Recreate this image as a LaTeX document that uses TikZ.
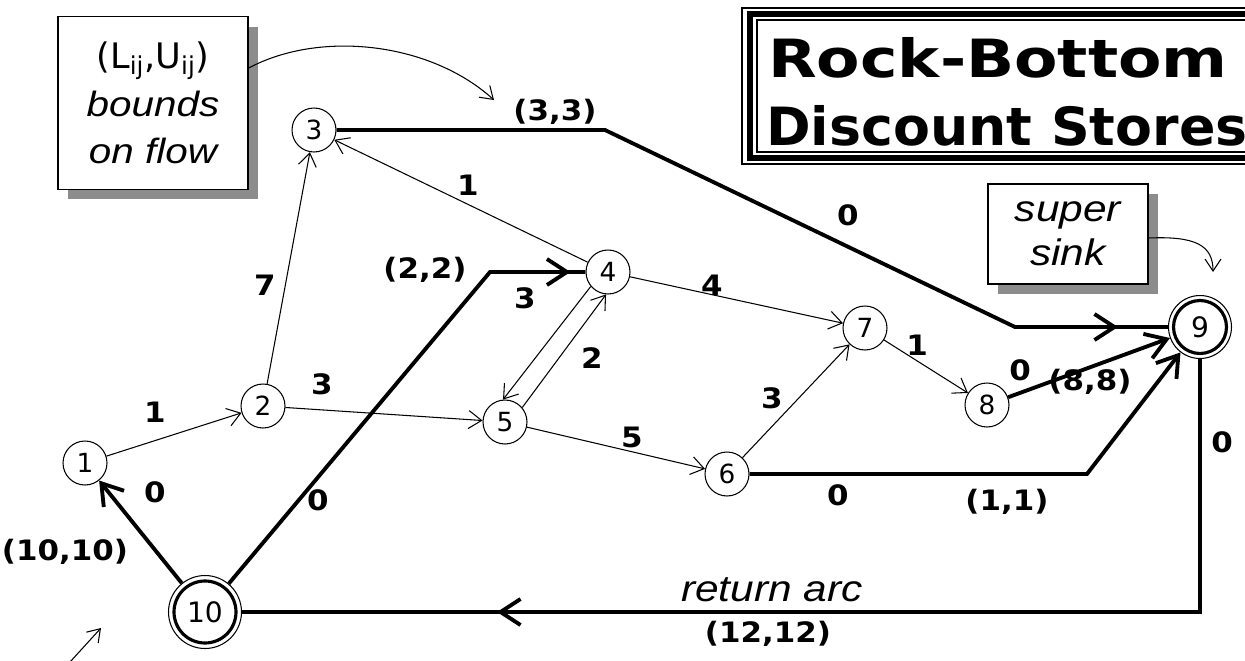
\documentclass[tikz,border=0pt]{standalone}
\usepackage{fontspec}
\usepackage{graphicx}
\setmainfont{DejaVu Sans}
\newfontfamily\lblfont{DejaVu Sans}[FakeStretch=1.1]
\newfontfamily\notefont{Liberation Sans}[FakeStretch=1.15]
\usetikzlibrary{arrows.meta,shadows,decorations.markings}
\tikzset{
  vert/.style={draw, circle, line width=0.6pt, minimum size=0.88cm, inner sep=0pt,
               font=\fontsize{15}{15}\selectfont},
  sink/.style 2 args={draw, circle, line width=0.6pt, minimum size=#1, inner sep=0pt,
               font=\fontsize{16}{16}\selectfont,
               path picture={\draw[line width=1.8pt] (path picture bounding box.center) circle[radius=#2];}},
  note/.style={draw, line width=0.8pt, fill=white, align=center, inner sep=0pt,
               drop shadow={shadow xshift=0.2cm, shadow yshift=-0.2cm, fill=black!45, opacity=1}},
  lbl/.style={inner sep=0pt, font=\lblfont\bfseries\fontsize{16}{16}\selectfont},
  ital/.style={inner sep=0pt, font=\notefont\itshape\fontsize{21}{25}\selectfont},
  titletxt/.style={inner sep=0pt, font=\bfseries\fontsize{30}{30}\selectfont},
  arcthin/.style={line width=0.6pt, -{Straight Barb[length=2.6mm,width=3.6mm]}},
  notearr/.style={line width=0.6pt, -{Straight Barb[length=2.4mm,width=3.2mm]}},
  flow/.style={line width=2.2pt},
  flowtip/.style={-{Straight Barb[length=4mm,width=5.2mm]}},
  midtip/.style={postaction={decorate, decoration={markings,
               mark=at position #1 with {\arrow{Straight Barb[length=4mm,width=5.2mm]}}}}}
}

\begin{document}
\begin{tikzpicture}[x=0.02cm, y=-0.02cm]
    \useasboundingbox (0,0) rectangle (1245,660);

    \draw[line width=0.6pt] (742,8) rectangle (1300,164);
    \draw[line width=3pt] (750,14) rectangle (1300,158);
    \draw[line width=0.6pt] (757,20) rectangle (1300,152);
    \node[titletxt] (rock) at (998,58) {\scalebox{1.2}[1]{Rock-Bottom}};
    \node[titletxt, anchor=west] (store) at (766,126) {\scalebox{1.02}[1]{Discount Stores}};

    \node[note, minimum width=3.8cm, minimum height=3.46cm, font=\fontsize{20}{27}\selectfont] (bounds) at (153,103)
      {(L\textsubscript{ij},U\textsubscript{ij})\\ \notefont\itshape bounds\\ \notefont\itshape on flow};
    \node[note, minimum width=3.2cm, minimum height=2cm, font=\notefont\itshape\fontsize{21}{25}\selectfont] (ssink) at (1068,234)
      {super\\ sink};

    \node[vert] (n1) at (85,463) {1};
    \node[vert] (n2) at (263,406) {2};
    \node[vert] (n3) at (314,130) {3};
    \node[vert] (n4) at (608,272) {4};
    \node[vert] (n5) at (505,422) {5};
    \node[vert] (n6) at (727,474) {6};
    \node[vert] (n7) at (865,328) {7};
    \node[vert] (n8) at (987,405) {8};
    \node[sink={1.26cm}{0.53cm}] (n9) at (1200,327) {9};
    \node[sink={1.46cm}{0.62cm}] (n10) at (205,612) {10};

    \draw[arcthin] (n1) -- (n2);
    \draw[arcthin] (n2) -- (n3);
    \draw[arcthin] (n2) -- (n5);
    \draw[arcthin] (n4) -- (n3);
    \draw[arcthin] (n4.220) -- (n5.95);
    \draw[arcthin] (n5.40) -- (n4.265);
    \draw[arcthin] (n4) -- (n7);
    \draw[arcthin] (n5) -- (n6);
    \draw[arcthin] (n6) -- (n7);
    \draw[arcthin] (n7) -- (n8);

    \coordinate (c3) at (605,130);
    \coordinate (c9a) at (1015,327);
    \coordinate (c10) at (490,272);
    \coordinate (c6) at (1087,474);
    \coordinate (c9b) at (1200,612);
    \draw[flow, midtip=-1.0cm] (n3) -- (c3) -- (c9a) -- (n9);
    \draw[flow, midtip=-0.3cm] (n10) -- (c10) -- (n4);
    \draw[flow, flowtip] (n10) -- (n1);
    \draw[flow, flowtip] (n8) -- (n9);
    \draw[flow, flowtip] (n6) -- (c6) -- (n9);
    \draw[flow, midtip=-5.1cm] (n9) -- (c9b) -- (n10);

    \coordinate (bndtip) at (494,100);
    \coordinate (sstip) at (1213,272);
    \coordinate (pa) at (70,662);
    \coordinate (pb) at (101,628);
    \draw[notearr] (bounds.east |- 0,68) .. controls (320,30) and (430,42) .. (bndtip);
    \draw[notearr] (ssink.east |- 0,238) .. controls (1195,236) and (1213,245) .. (sstip);
    \draw[notearr] (pa) -- (pb);

    \node[lbl] (w12) at (155,412) {1};
    \node[lbl] (w23) at (265,285) {7};
    \node[lbl] (w25) at (322,384) {3};
    \node[lbl] (w43) at (468,185) {1};
    \node[lbl] (w45) at (525,298) {3};
    \node[lbl] (w54) at (592,358) {2};
    \node[lbl] (w47) at (712,285) {4};
    \node[lbl] (w56) at (632,437) {5};
    \node[lbl] (w67) at (772,398) {3};
    \node[lbl] (w78) at (917,345) {1};
    \node[lbl] (b39) at (555,112) {(3,3)};
    \node[lbl] (k39) at (848,215) {0};
    \node[lbl] (b104) at (425,270) {(2,2)};
    \node[lbl] (k104) at (318,500) {0};
    \node[lbl] (k101) at (155,492) {0};
    \node[lbl] (b101) at (65,552) {(10,10)};
    \node[lbl] (k89) at (1020,370) {0};
    \node[lbl] (b89) at (1090,382) {(8,8)};
    \node[lbl] (k69) at (838,495) {0};
    \node[lbl] (b69) at (1007,502) {(1,1)};
    \node[lbl] (k910) at (1222,442) {0};
    \node[ital] (ret) at (772,590) {return arc};
    \node[lbl] (b910) at (768,634) {(12,12)};
  \end{tikzpicture}
\end{document}
